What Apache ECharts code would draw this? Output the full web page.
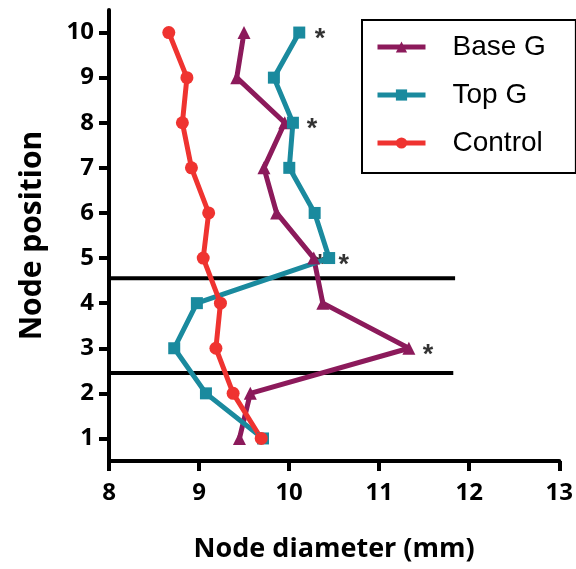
<!DOCTYPE html>
<html>
<head>
<meta charset="utf-8">
<script src="https://cdn.jsdelivr.net/npm/echarts@6/dist/echarts.min.js"></script>
<style>html,body{margin:0;padding:0;background:#fff}#wrap{position:relative;width:576px;height:569px}.layer{position:absolute;left:0;top:0;width:576px;height:569px}</style>
</head>
<body>
<div id="wrap"><div id="axes" class="layer"></div><div id="marks" class="layer"></div></div>
<script>
const nodePositions = [1, 2, 3, 4, 5, 6, 7, 8, 9, 10];
const baseG   = [9.44, 9.56, 11.31, 10.36, 10.26, 9.85, 9.71, 9.94, 9.41, 9.49];
const topG    = [9.70, 9.07, 8.72, 8.97, 10.43, 10.27, 9.99, 10.03, 9.82, 10.10];
const control = [9.68, 9.37, 9.18, 9.23, 9.04, 9.10, 8.91, 8.81, 8.86, 8.66];
const xTicks = [8, 9, 10, 11, 12, 13];
const yTicks = [1, 2, 3, 4, 5, 6, 7, 8, 9, 10];
const dividerY = [4.55, 2.45];
const dividerXStart = [8, 8];
const dividerXEnd = [11.82, 11.8];
const starX = [10.33, 10.24, 10.33, 10.59, 11.52];
const starY = [10, 8, 5, 5, 3];

const grid = { left: 109, right: 14, top: 10, bottom: 108 };
const xRange = { type: 'value', min: xTicks[0], max: xTicks[xTicks.length - 1], interval: 1 };
const yRange = { type: 'value', min: 0.5, max: 10.5 };
const tickFont = { fontFamily: 'Open Sans', fontWeight: 'bold', fontSize: 24, color: '#000' };

// Layer 1: axes
const axesChart = echarts.init(document.getElementById('axes'));
axesChart.setOption({
  animation: false,
  grid: grid,
  xAxis: Object.assign({}, xRange, {
    name: 'Node diameter (mm)', nameLocation: 'middle', nameGap: 75,
    nameTextStyle: { fontFamily: 'Open Sans', fontWeight: 'bold', fontSize: 27, color: '#000' },
    axisLine: { show: true, onZero: false, lineStyle: { color: '#000', width: 4 } },
    axisTick: { show: true, length: 10, lineStyle: { color: '#000', width: 4 } },
    axisLabel: Object.assign({ margin: 20 }, tickFont),
    splitLine: { show: false }
  }),
  yAxis: Object.assign({}, yRange, {
    name: 'Node position', nameLocation: 'middle', nameGap: 62, nameRotate: 90,
    nameTextStyle: { fontFamily: 'Open Sans', fontWeight: 'bold', fontSize: 30, color: '#000' },
    axisLine: { show: true, onZero: false, lineStyle: { color: '#000', width: 4 } },
    axisTick: { show: true, length: 10, lineStyle: { color: '#000', width: 4 }, customValues: yTicks },
    axisLabel: Object.assign({ margin: 15, customValues: yTicks }, tickFont),
    splitLine: { show: false }
  }),
  series: [{ type: 'line', data: [] }]
});

// Layer 2: data marks and legend
const pairs = vals => vals.map((v, i) => [v, nodePositions[i]]);
const lineSeries = (name, vals, color, symbol, size) => ({
  name, type: 'line', data: pairs(vals), symbol, symbolSize: size,
  lineStyle: { color, width: 5 }, itemStyle: { color }
});
const hiddenAxis = {
  axisLine: { show: false }, axisTick: { show: false }, axisLabel: { show: false }, splitLine: { show: false }
};
const dividerSeries = dividerY.map((y, i) => ({
  type: 'line', data: [[dividerXStart[i], y], [dividerXEnd[i], y]], symbol: 'none', silent: true,
  lineStyle: { color: '#000', width: 4 }
}));
const marksChart = echarts.init(document.getElementById('marks'));
marksChart.setOption({
  animation: false,
  backgroundColor: 'transparent',
  grid: grid,
  legend: {
    orient: 'vertical', left: 362, top: 20,
    data: ['Base G', 'Top G', 'Control'],
    borderColor: '#000', borderWidth: 2, padding: [12, 30, 15, 13],
    itemWidth: 48, itemHeight: 14, itemGap: 18,
    lineStyle: { width: 5 },
    textStyle: { fontFamily: 'Liberation Sans', fontSize: 28, color: '#000', lineHeight: 30, padding: [0, 0, 0, 22] }
  },
  xAxis: Object.assign({}, xRange, hiddenAxis),
  yAxis: Object.assign({}, yRange, hiddenAxis),
  series: dividerSeries.concat([
    lineSeries('Base G', baseG, '#8C1A5B', 'triangle', 13),
    lineSeries('Top G', topG, '#1A8A9E', 'rect', 12),
    lineSeries('Control', control, '#EF3330', 'circle', 13),
    {
      type: 'scatter', data: starX.map((x, i) => [x, starY[i]]), symbol: 'circle', symbolSize: 0, silent: true,
      itemStyle: { color: 'rgba(0,0,0,0)' },
      label: { show: true, position: 'inside', formatter: '*', fontFamily: 'Liberation Sans', fontWeight: 'bold', fontSize: 27, color: '#000', offset: [0, 7] }
    }
  ])
});
</script>
</body>
</html>
